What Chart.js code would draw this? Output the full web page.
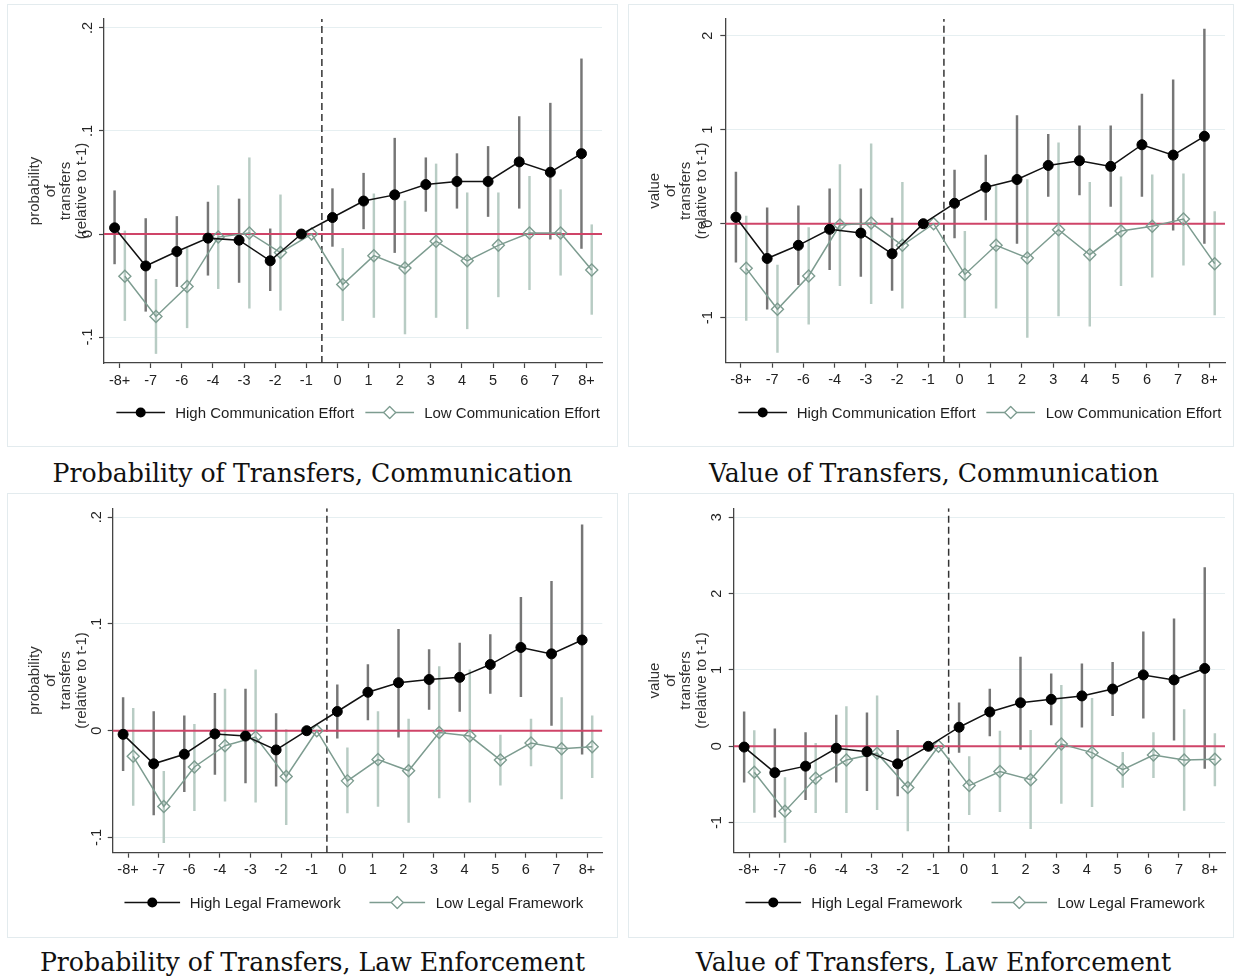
<!DOCTYPE html>
<html><head><meta charset="utf-8">
<script src="https://cdn.jsdelivr.net/npm/chart.js@4.4.1/dist/chart.umd.min.js"></script>
<style>
html,body{margin:0;padding:0;background:#fff;}
body{width:1235px;height:980px;position:relative;overflow:hidden;font-family:"Liberation Sans",Arial,sans-serif;}
.panel{position:absolute;box-shadow:inset 0 0 0 1px #e3ebee;}
.panel canvas{position:absolute;left:0;top:0;}
.legend{position:absolute;display:flex;align-items:center;font-size:15px;color:#1e1e1e;white-space:nowrap;transform:translate(-50%,-50%);}
.legend .item{display:flex;align-items:center;}
.legend svg{display:block;margin-right:10px;}
.caption{position:absolute;font-family:"DejaVu Serif",serif;font-size:25.2px;color:#111;white-space:nowrap;transform:translate(-50%,-50%);line-height:30px;}
</style></head><body>
<script>
// ---------- data ----------
const periods = ['-8+','-7','-6','-4','-3','-2','-1','0','1','2','3','4','5','6','7','8+'];
const yTicksProb = [-0.1, 0, 0.1, 0.2];
const yTicksValComm = [-1, 0, 1, 2];
const yTicksValLaw = [-1, 0, 1, 2, 3];
const yTitleProb = ['probability','of','transfers','(relative to t-1)'];
const yTitleVal = ['value','of','transfers','(relative to t-1)'];
const legendComm = ['High Communication Effort','Low Communication Effort'];
const legendLaw = ['High Legal Framework','Low Legal Framework'];
const captions = ['Probability of Transfers, Communication','Value of Transfers, Communication','Probability of Transfers, Law Enforcement','Value of Transfers, Law Enforcement'];

// Probability of transfers, communication
const probCommHigh   = [0.006,-0.031,-0.017,-0.004,-0.006,-0.026,0,0.016,0.032,0.038,0.048,0.051,0.051,0.070,0.060,0.078];
const probCommHighLo = [-0.029,-0.075,-0.051,-0.040,-0.047,-0.055,null,-0.012,0.005,-0.018,0.022,0.025,0.017,0.025,-0.005,-0.014];
const probCommHighHi = [0.042,0.015,0.017,0.031,0.034,0.005,null,0.044,0.059,0.093,0.074,0.078,0.085,0.114,0.127,0.170];
const probCommLow    = [-0.041,-0.080,-0.051,-0.003,0.001,-0.018,0,-0.049,-0.021,-0.033,-0.007,-0.026,-0.011,0.001,0.001,-0.035];
const probCommLowLo  = [-0.084,-0.116,-0.091,-0.053,-0.072,-0.074,null,-0.084,-0.081,-0.097,-0.081,-0.092,-0.061,-0.054,-0.040,-0.078];
const probCommLowHi  = [0.003,-0.044,-0.014,0.047,0.074,0.038,null,-0.014,0.039,0.032,0.068,0.040,0.040,0.056,0.043,0.009];

// Value of transfers, communication
const valCommHigh   = [0.068,-0.37,-0.23,-0.06,-0.10,-0.32,0,0.217,0.387,0.47,0.62,0.67,0.61,0.84,0.73,0.93];
const valCommHighLo = [-0.41,-0.91,-0.65,-0.49,-0.56,-0.71,null,-0.15,0.04,-0.21,0.29,0.305,0.185,0.29,-0.07,-0.21];
const valCommHighHi = [0.55,0.17,0.19,0.37,0.37,0.06,null,0.57,0.73,1.15,0.95,1.04,1.04,1.38,1.53,2.07];
const valCommLow    = [-0.475,-0.91,-0.556,-0.014,0.007,-0.23,0,-0.54,-0.23,-0.365,-0.064,-0.33,-0.078,-0.028,0.05,-0.425];
const valCommLowLo  = [-1.03,-1.37,-1.07,-0.66,-0.85,-0.90,null,-1.0,-0.90,-1.21,-0.98,-1.09,-0.66,-0.57,-0.44,-0.97];
const valCommLowHi  = [0.08,-0.44,-0.04,0.63,0.85,0.44,null,-0.08,0.40,0.47,0.86,0.44,0.50,0.52,0.53,0.13];

// Probability of transfers, law enforcement
const probLawHigh   = [-0.0034,-0.031,-0.022,-0.003,-0.005,-0.018,0,0.018,0.036,0.045,0.048,0.050,0.062,0.078,0.072,0.085];
const probLawHighLo = [-0.0375,-0.079,-0.057,-0.041,-0.049,-0.052,null,-0.007,0.010,-0.006,0.020,0.018,0.035,0.032,0.005,-0.022];
const probLawHighHi = [0.031,0.018,0.014,0.035,0.039,0.016,null,0.043,0.062,0.095,0.076,0.082,0.090,0.125,0.140,0.193];
const probLawLow    = [-0.024,-0.071,-0.034,-0.014,-0.006,-0.043,0,-0.047,-0.027,-0.0375,-0.0016,-0.005,-0.0275,-0.0115,-0.017,-0.015];
const probLawLowLo  = [-0.070,-0.105,-0.075,-0.066,-0.067,-0.088,null,-0.077,-0.071,-0.086,-0.063,-0.067,-0.051,-0.033,-0.064,-0.044];
const probLawLowHi  = [0.021,-0.038,0.006,0.039,0.057,0.001,null,-0.016,0.018,0.011,0.060,0.057,-0.004,0.011,0.031,0.014];

// Value of transfers, law enforcement
const valLawHigh   = [-0.01,-0.345,-0.26,-0.026,-0.07,-0.23,0,0.25,0.45,0.57,0.615,0.66,0.75,0.935,0.87,1.02];
const valLawHighLo = [-0.47,-0.93,-0.70,-0.47,-0.58,-0.65,null,-0.08,0.135,-0.04,0.28,0.25,0.40,0.37,0.08,-0.29];
const valLawHighHi = [0.45,0.23,0.18,0.41,0.44,0.21,null,0.57,0.75,1.17,0.95,1.08,1.10,1.50,1.67,2.34];
const valLawLow    = [-0.34,-0.85,-0.42,-0.18,-0.09,-0.54,0,-0.515,-0.33,-0.437,0.03,-0.083,-0.305,-0.114,-0.18,-0.17];
const valLawLowLo  = [-0.865,-1.26,-0.87,-0.87,-0.83,-1.11,null,-0.895,-0.855,-1.08,-0.75,-0.79,-0.54,-0.41,-0.84,-0.52];
const valLawLowHi  = [0.205,-0.41,0.04,0.52,0.66,0.004,null,-0.135,0.20,0.21,0.80,0.63,-0.08,0.18,0.48,0.166];

// ---------- layout / style ----------
const HIGH_OFF = -0.16, LOW_OFF = 0.17;
const C_HIGH = '#111111', C_HIGH_CI = '#767676', C_LOW = '#7d9c90', C_LOW_CI = '#b8ccc4', C_ZERO = '#cf4468';

const panels = [
  {box:{x:7,y:4,w:611,h:443}, area:{l:97,r:595,t:15,b:359}, yMin:-0.1252, yMax:0.2087, ticks:yTicksProb, title:yTitleProb, titlePad:12.3, tickPad:2.5,
   high:[probCommHigh,probCommHighLo,probCommHighHi], low:[probCommLow,probCommLowLo,probCommLowHi], legend:legendComm, leg:{x:351,y:408,sym:49,gap:11}, caption:captions[0], cap:{x:312.5,y:474}},
  {box:{x:628,y:4,w:606,h:443}, area:{l:97.3,r:597,t:15,b:358.7}, yMin:-1.479, yMax:2.178, ticks:yTicksValComm, title:yTitleVal, titlePad:11.3, tickPad:5.5,
   high:[valCommHigh,valCommHighLo,valCommHighHi], low:[valCommLow,valCommLowLo,valCommLowHi], legend:legendComm, leg:{x:351.5,y:408,sym:49,gap:11}, caption:captions[1], cap:{x:934,y:474}},
  {box:{x:7,y:493,w:611,h:445}, area:{l:105.7,r:595.3,t:15.3,b:359.7}, yMin:-0.1143, yMax:0.2084, ticks:yTicksProb, title:yTitleProb, titlePad:12.3, tickPad:2.5,
   high:[probLawHigh,probLawHighLo,probLawHighHi], low:[probLawLow,probLawLowLo,probLawLowHi], legend:legendLaw, leg:{x:346.5,y:409,sym:56,gap:29}, caption:captions[2], cap:{x:312.5,y:963}},
  {box:{x:628,y:493,w:606,h:445}, area:{l:105.7,r:597,t:15.3,b:359.7}, yMin:-1.394, yMax:3.118, ticks:yTicksValLaw, title:yTitleVal, titlePad:11.3, tickPad:5.5,
   high:[valLawHigh,valLawHighLo,valLawHighHi], low:[valLawLow,valLawLowLo,valLawLowHi], legend:legendLaw, leg:{x:347,y:409,sym:56,gap:29}, caption:captions[3], cap:{x:933.5,y:963}}
];

function fmtY(v){ const s = String(+Number(v).toFixed(3)); return s.replace(/^(-?)0\./,'$1.'); }
function ciData(lo, hi, off){ return periods.map((p,i)=> lo[i]==null ? null : {x:i+off, y:[lo[i],hi[i]]}).filter(Boolean); }
function ptData(v, off){ return periods.map((p,i)=>({x:i+off, y:v[i]})); }

function legendSym(kind, w){
  const c = w/2;
  if(kind==='high') return `<svg width="${w}" height="14"><line x1="0" y1="7" x2="${w}" y2="7" stroke="${C_HIGH}" stroke-width="1.5"/><circle cx="${c}" cy="7" r="5" fill="#000"/></svg>`;
  return `<svg width="${w}" height="14"><line x1="0" y1="7" x2="${w}" y2="7" stroke="${C_LOW}" stroke-width="1.5"/><polygon points="${c},1 ${c+6},7 ${c},13 ${c-6},7" fill="#fff" stroke="${C_LOW}" stroke-width="1.3"/></svg>`;
}

const FONT = '"Liberation Sans", Arial, sans-serif';

panels.forEach((P, k)=>{
  const div = document.createElement('div');
  div.className = 'panel';
  Object.assign(div.style, {left:P.box.x+'px', top:P.box.y+'px', width:P.box.w+'px', height:P.box.h+'px'});
  const cv = document.createElement('canvas');
  cv.width = P.box.w; cv.height = P.box.h;
  cv.style.width = P.box.w+'px'; cv.style.height = P.box.h+'px';
  div.appendChild(cv);
  const lg = document.createElement('div');
  lg.className = 'legend';
  lg.style.left = P.leg.x+'px'; lg.style.top = P.leg.y+'px';
  lg.innerHTML = `<div class="item">${legendSym('high',P.leg.sym)}<span>${P.legend[0]}</span></div><div class="item" style="margin-left:${P.leg.gap}px">${legendSym('low',P.leg.sym)}<span>${P.legend[1]}</span></div>`;
  div.appendChild(lg);
  document.body.appendChild(div);

  const cap = document.createElement('div');
  cap.className = 'caption';
  cap.style.left = P.cap.x+'px'; cap.style.top = P.cap.y+'px';
  cap.textContent = P.caption;
  document.body.appendChild(cap);

  const XH = 30;
  new Chart(cv, {
    type:'line',
    data:{datasets:[
      {type:'line', data:ptData(P.high[0],HIGH_OFF), borderColor:C_HIGH, borderWidth:1.5, tension:0,
       pointStyle:'circle', pointRadius:5, pointBackgroundColor:'#000', pointBorderColor:'#000', pointBorderWidth:1, order:0},
      {type:'line', data:ptData(P.low[0],LOW_OFF), borderColor:C_LOW, borderWidth:1.5, tension:0,
       pointStyle:'rectRot', pointRadius:6, pointBackgroundColor:'rgba(255,255,255,0)', pointBorderColor:C_LOW, pointBorderWidth:1.4, order:1},
      {type:'line', data:[{x:-0.5,y:0},{x:15.5,y:0}], borderColor:C_ZERO, borderWidth:2, pointRadius:0, order:2},
      {type:'line', data:[{x:6.5,y:P.yMin},{x:6.5,y:P.yMax}], borderColor:'#333', borderWidth:1.5, borderDash:[7,4], pointRadius:0, order:3},
      {type:'bar', data:ciData(P.high[1],P.high[2],HIGH_OFF), backgroundColor:C_HIGH_CI, barThickness:1.8, grouped:false, order:4},
      {type:'bar', data:ciData(P.low[1],P.low[2],LOW_OFF), backgroundColor:C_LOW_CI, barThickness:1.8, grouped:false, order:5}
    ]},
    options:{
      responsive:false, animation:false, events:[],
      layout:{padding:{left:8, right:P.box.w-P.area.r, top:P.area.t, bottom:P.box.h-P.area.b-XH}},
      plugins:{legend:{display:false}, tooltip:{enabled:false}},
      scales:{
        x:{type:'linear', min:-0.5, max:15.5, offset:false,
           afterBuildTicks:s=>{ s.ticks = periods.map((p,i)=>({value:i})); },
           afterFit:s=>{ s.height = XH; },
           ticks:{callback:v=>periods[v], autoSkip:false, minRotation:0, maxRotation:0, padding:4, color:'#222', font:{family:FONT, size:14.5}},
           grid:{offset:false, drawOnChartArea:false, drawTicks:true, tickLength:5, tickColor:'#444', tickWidth:1.2},
           border:{color:'#444', width:1.3}},
        y:{type:'linear', min:P.yMin, max:P.yMax, offset:false, beginAtZero:false,
           afterBuildTicks:s=>{ s.ticks = P.ticks.map(v=>({value:v})); },
           afterFit:s=>{ s.width = P.area.l - 8; },
           ticks:{callback:fmtY, minRotation:90, maxRotation:90, crossAlign:'center', padding:P.tickPad, color:'#222', font:{family:FONT, size:14.5}},
           grid:{color:'#e6eff1', lineWidth:1, drawTicks:true, tickLength:5, tickColor:'#444', tickWidth:1.2},
           border:{color:'#444', width:1.3},
           title:{display:true, text:P.title, color:'#333', font:{family:FONT, size:15, lineHeight:1.03}, padding:{top:P.titlePad, bottom:0}}}
      }
    }
  });
});
</script>
</body></html>
